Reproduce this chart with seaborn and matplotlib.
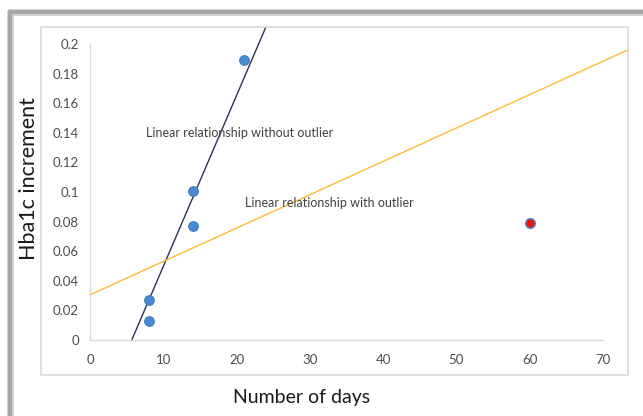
import matplotlib
matplotlib.use("Agg")
import matplotlib.pyplot as plt
import seaborn as sns
import pandas as pd
from matplotlib.patches import Rectangle
from matplotlib.lines import Line2D

# ---- data ----
days = [8, 8, 14, 14, 21]
hba1c = [0.013, 0.027, 0.077, 0.101, 0.189]
outlier_days = [60]
outlier_hba1c = [0.079]

# trend lines
line_without_x = [5.7, 24.0]
line_without_y = [0.0, 0.2115]
line_with_x = [0.0, 73.4]
line_with_y = [0.0305, 0.196]

x_ticks = [0, 10, 20, 30, 40, 50, 60, 70]
y_ticks = [0, 0.02, 0.04, 0.06, 0.08, 0.1, 0.12, 0.14, 0.16, 0.18, 0.2]
y_tick_labels = ["0", "0.02", "0.04", "0.06", "0.08", "0.1", "0.12", "0.14", "0.16", "0.18", "0.2"]

sns.set_theme(style="white")
plt.rcParams["font.family"] = ["Lato", "DejaVu Sans"]

W, H = 643, 416
fig = plt.figure(figsize=(W / 100, H / 100), dpi=100)
fig.patch.set_facecolor("white")

def fx(px):
    return px / W

def fy(py):
    return 1 - py / H

# outer frame (top + left shadowed border)
for lw, col in [(5, "#d4d4d4"), (3, "#a6a6a6")]:
    fig.add_artist(Line2D([fx(10), fx(10)], [fy(12), 0], transform=fig.transFigure, color=col, lw=lw))
    fig.add_artist(Line2D([fx(10), 1], [fy(12), fy(12)], transform=fig.transFigure, color=col, lw=lw))

# inner chart box
fig.add_artist(Rectangle((fx(41), fy(375)), (628 - 41) / W, (375 - 27) / H,
                         transform=fig.transFigure, fill=False, ec="#d9d9d9", lw=1.2))

ax = fig.add_axes([fx(90), fy(340), (603 - 90) / W, (340 - 44) / H])
ax.set_facecolor("none")

df = pd.DataFrame({"days": days, "hba1c": hba1c})
df_out = pd.DataFrame({"days": outlier_days, "hba1c": outlier_hba1c})

sns.lineplot(x=line_without_x, y=line_without_y, ax=ax, color="#2c3258", lw=1.0,
             clip_on=False, zorder=2, estimator=None, sort=False)
sns.lineplot(x=line_with_x, y=line_with_y, ax=ax, color="#ffbb33", lw=1.0,
             clip_on=False, zorder=2, estimator=None, sort=False)

sns.scatterplot(data=df, x="days", y="hba1c", ax=ax, s=48, color="#4a8ad0",
                edgecolor="#3d7cc2", linewidth=0.8, zorder=3, clip_on=False)
sns.scatterplot(data=df_out, x="days", y="hba1c", ax=ax, s=48, color="#f01010",
                edgecolor="#3f86d0", linewidth=1.0, zorder=3, clip_on=False)

ax.set_xlim(0, 70)
ax.set_ylim(0, 0.2)
ax.set_xticks(x_ticks)
ax.set_yticks(y_ticks)
ax.set_yticklabels(y_tick_labels)
ax.tick_params(axis="both", length=0, labelsize=9.5, colors="#4d4d4d")
ax.tick_params(axis="y", pad=8)
ax.tick_params(axis="x", pad=10)
for s in ["top", "right"]:
    ax.spines[s].set_visible(False)
for s in ["left", "bottom"]:
    ax.spines[s].set_color("#d9d9d9")
    ax.spines[s].set_linewidth(1.0)

ax.set_xlabel("")
ax.set_ylabel("")

ax.text(7.7, 0.140, "Linear relationship without outlier", fontsize=9, color="#404040",
        va="center", ha="left")
ax.text(21.1, 0.0928, "Linear relationship with outlier", fontsize=9, color="#404040",
        va="center", ha="left")

fig.text(fx(302), fy(397), "Number of days", fontsize=14, color="#1a1a1a", ha="center", va="center")
fig.text(fx(29), fy(179), "Hba1c increment", fontsize=15.5, color="#1a1a1a", ha="center", va="center",
         rotation=90)

fig.savefig("out.png", dpi=100, facecolor="white")
